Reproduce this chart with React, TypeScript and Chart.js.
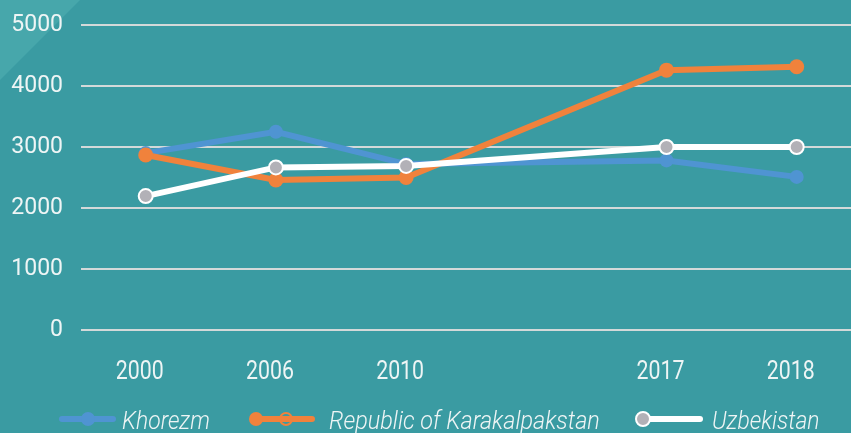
import React, { useEffect, useRef } from "react";
import { Chart, registerables } from "chart.js";

Chart.register(...registerables);

// ---- data ----
const categories = ["2000", "2006", "2010", "2017", "2018"];
const categoryIndex = [0, 1, 2, 4, 5];
const khorezm = [2900, 3250, 2720, 2780, 2510];
const karakalpakstan = [2870, 2460, 2500, 4260, 4315];
const uzbekistan = [2195, 2665, 2690, 3000, 3000];
const seriesNames = ["Khorezm", "Republic of Karakalpakstan", "Uzbekistan"];
const yTicks = [0, 1000, 2000, 3000, 4000, 5000];

const BG = "#3a9ba2";
const BG_LIGHT = "#47a7ab";
const BLUE = "#4f94d2";
const ORANGE = "#f0823c";
const WHITE = "#ffffff";
const GRAY = "#b2b1b7";
const TEXT = "#eef5f5";

function toPoints(values: number[]) {
  return values.map((y, i) => ({ x: categoryIndex[i], y }));
}

function drawScaledText(
  ctx: CanvasRenderingContext2D,
  text: string,
  x: number,
  y: number,
  font: string,
  sx: number,
  align: CanvasTextAlign
) {
  ctx.save();
  ctx.font = font;
  ctx.translate(x, y);
  ctx.scale(sx, 1);
  ctx.textAlign = align;
  ctx.textBaseline = "alphabetic";
  ctx.fillStyle = TEXT;
  ctx.fillText(text, 0, 0);
  ctx.restore();
}

const backgroundPlugin = {
  id: "bgPlugin",
  beforeDraw(chart: any) {
    const { ctx, width, height } = chart;
    ctx.save();
    ctx.fillStyle = BG;
    ctx.fillRect(0, 0, width, height);
    ctx.fillStyle = BG_LIGHT;
    ctx.beginPath();
    ctx.moveTo(0, 0);
    ctx.lineTo(80, 0);
    ctx.lineTo(0, 80);
    ctx.closePath();
    ctx.fill();
    ctx.restore();
  },
};

const labelsLegendPlugin = {
  id: "labelsLegend",
  afterDraw(chart: any) {
    const { ctx } = chart;
    const xs = chart.scales.x;
    // x category labels
    categories.forEach((label, i) => {
      const px = xs.getPixelForValue(categoryIndex[i]) - 6;
      drawScaledText(ctx, label, px, 379, "400 26px Roboto", 0.82, "center");
    });

    // legend
    const ly = 419;
    const legendFont = "italic 300 26px Roboto";
    ctx.save();
    ctx.lineCap = "round";
    ctx.lineWidth = 6;

    // Khorezm
    ctx.strokeStyle = BLUE;
    ctx.beginPath();
    ctx.moveTo(62, ly);
    ctx.lineTo(113, ly);
    ctx.stroke();
    ctx.fillStyle = BLUE;
    ctx.beginPath();
    ctx.arc(88, ly, 7, 0, Math.PI * 2);
    ctx.fill();

    // Karakalpakstan
    ctx.strokeStyle = ORANGE;
    ctx.beginPath();
    ctx.moveTo(256, ly);
    ctx.lineTo(312, ly);
    ctx.stroke();
    ctx.fillStyle = ORANGE;
    ctx.beginPath();
    ctx.arc(256, ly, 7, 0, Math.PI * 2);
    ctx.fill();
    ctx.lineWidth = 2;
    ctx.beginPath();
    ctx.arc(286, ly, 6, 0, Math.PI * 2);
    ctx.stroke();

    // Uzbekistan
    ctx.lineWidth = 6;
    ctx.strokeStyle = WHITE;
    ctx.beginPath();
    ctx.moveTo(645, ly);
    ctx.lineTo(700, ly);
    ctx.stroke();
    ctx.fillStyle = GRAY;
    ctx.lineWidth = 2;
    ctx.beginPath();
    ctx.arc(643, ly, 7, 0, Math.PI * 2);
    ctx.fill();
    ctx.stroke();
    ctx.restore();

    drawScaledText(ctx, seriesNames[0], 122, 429, legendFont, 0.88, "left");
    drawScaledText(ctx, seriesNames[1], 329, 429, legendFont, 0.9, "left");
    drawScaledText(ctx, seriesNames[2], 712, 429, legendFont, 0.88, "left");
  },
};

export default function App() {
  const canvasRef = useRef<HTMLCanvasElement | null>(null);

  useEffect(() => {
    document.body.style.margin = "0";
    if (!canvasRef.current) return;
    const chart = new Chart(canvasRef.current, {
      type: "line",
      data: {
        datasets: [
          {
            label: seriesNames[0],
            data: toPoints(khorezm),
            borderColor: BLUE,
            backgroundColor: BLUE,
            borderWidth: 6,
            pointRadius: 7,
            pointBackgroundColor: BLUE,
            pointBorderWidth: 0,
            tension: 0,
            order: 3,
          },
          {
            label: seriesNames[1],
            data: toPoints(karakalpakstan),
            borderColor: ORANGE,
            backgroundColor: ORANGE,
            borderWidth: 6,
            pointRadius: 7.5,
            pointBackgroundColor: ORANGE,
            pointBorderWidth: 0,
            tension: 0,
            order: 2,
          },
          {
            label: seriesNames[2],
            data: toPoints(uzbekistan),
            borderColor: WHITE,
            backgroundColor: GRAY,
            borderWidth: 6,
            pointRadius: 7,
            pointBackgroundColor: GRAY,
            pointBorderColor: WHITE,
            pointBorderWidth: 2,
            tension: 0,
            order: 1,
          },
        ],
      },
      options: {
        animation: false,
        responsive: true,
        maintainAspectRatio: false,
        layout: {
          autoPadding: false,
          padding: { left: 11, right: 0, top: 25, bottom: 103 },
        },
        plugins: {
          legend: { display: false },
          tooltip: { enabled: false },
        },
        scales: {
          x: {
            type: "linear",
            display: false,
            min: -0.497,
            max: 5.417,
          },
          y: {
            min: 0,
            max: 5000,
            afterBuildTicks: (scale: any) => {
              scale.ticks = yTicks.map((v) => ({ value: v }));
            },
            afterFit: (scale: any) => {
              scale.width = 70;
              scale.paddingTop = 0;
              scale.paddingBottom = 0;
            },
            border: { display: false },
            grid: {
              color: "#d3d9d9",
              lineWidth: 2,
              drawTicks: false,
            },
            ticks: {
              padding: 18,
              color: TEXT,
              font: { family: "Roboto", size: 23 },
              callback: (v: any) => String(v),
            },
          },
        },
      },
      plugins: [backgroundPlugin, labelsLegendPlugin],
    });
    return () => chart.destroy();
  }, []);

  return (
    <div style={{ width: 851, height: 433, position: "relative" }}>
      <canvas ref={canvasRef} />
    </div>
  );
}
